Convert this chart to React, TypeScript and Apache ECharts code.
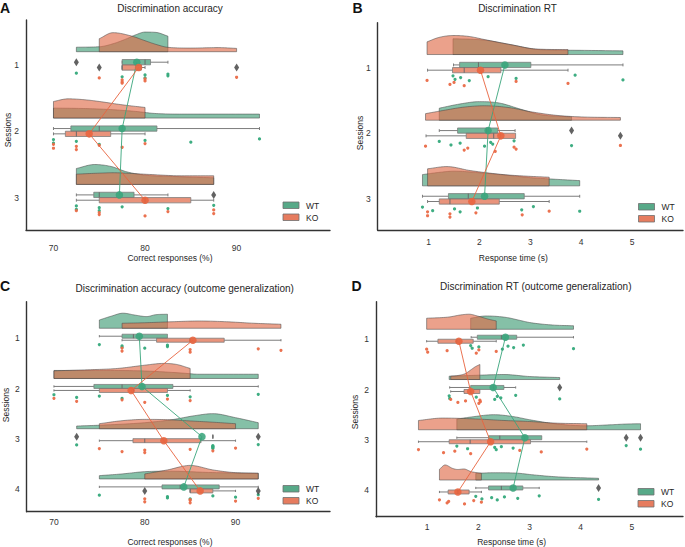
import React, { useEffect, useRef } from "react";
import * as echarts from "echarts";

// ---------- shared ticks ----------
const ACC_X_TICKS = [70, 80, 90];
const RT_X_TICKS = [1, 2, 3, 4, 5];
const SESSIONS_3 = [1, 2, 3];
const SESSIONS_4 = [1, 2, 3, 4];

// ---------- Panel A: Discrimination accuracy ----------
const A_WT_POINTS = [
  [72.5, 77.5, 80, 80, 82.5, 82.5],
  [70, 70, 72.5, 75, 80, 85, 92.5],
  [72.5, 72.5, 75, 75, 77.5, 82.5, 87.5],
];
const A_KO_POINTS = [
  [75, 77.5, 77.5, 77.5, 80, 80, 90],
  [70, 70, 72.5, 72.5, 75, 77.5, 80],
  [72.5, 75, 75, 80, 82.5, 87.5, 87.5],
];
// [whisker low, q1, median, q3, whisker high]
const A_WT_BOX = [[77.5, 77.5, 80, 80.6, 82.5], [70, 71.9, 75, 81.3, 92.5], [72.5, 74.4, 75, 78.8, 82.5]];
const A_KO_BOX = [[77.5, 77.5, 77.5, 79.6, 80], [70, 71.3, 72.5, 76.25, 80], [72.5, 75, 80, 85, 87.5]];
const A_WT_OUTLIERS = [[72.5], [], [87.5]];
const A_KO_OUTLIERS = [[75, 90], [], []];
const A_WT_MEAN = [79.1, 77.5, 77.2];
const A_KO_MEAN = [79.3, 73.9, 80.0];
const A_WT_DENSITY = [
  [[72.5, 0.068], [75, 0.075], [76.5, 0.12], [78, 0.196], [79, 0.256], [80, 0.296], [81.2, 0.291], [82.5, 0.234]],
  [[70, 0.15], [73, 0.145], [76, 0.13], [79, 0.1], [81, 0.07], [84, 0.06], [88, 0.06], [92.5, 0.06]],
  [[72.5, 0.24], [74.5, 0.3], [76.3, 0.27], [78, 0.19], [80, 0.14], [83, 0.12], [87.5, 0.1]],
];
const A_KO_DENSITY = [
  [[75, 0.196], [76.5, 0.287], [78.5, 0.237], [80, 0.166], [81.2, 0.11], [82.5, 0.066], [85, 0.055], [88, 0.062], [90, 0.05]],
  [[70, 0.25], [71.6, 0.29], [73.5, 0.275], [75, 0.25], [77.5, 0.2], [80, 0.16]],
  [[72.5, 0.155], [75, 0.17], [76.5, 0.176], [78.5, 0.165], [80.5, 0.15], [84, 0.13], [87.5, 0.13]],
];

// ---------- Panel B: Discrimination RT ----------
const B_WT_POINTS = [
  [1.48, 1.52, 1.63, 1.8, 2.17, 2.72, 3.88, 4.82],
  [1.21, 1.44, 1.62, 2.1, 2.22, 2.26, 2.68, 3.81],
  [0.88, 1.08, 1.51, 1.62, 1.96, 2.83, 3.06, 3.97],
];
const B_KO_POINTS = [
  [0.97, 1.42, 1.5, 1.7, 2.72, 3.74],
  [0.94, 1.7, 1.77, 2.31, 2.68, 2.72, 4.77],
  [0.98, 0.98, 1.42, 1.42, 1.93, 2.84, 3.37],
];
const B_WT_BOX = [[1.49, 1.61, 1.98, 3.01, 4.82], [1.21, 1.57, 2.14, 2.36, 2.7], [0.88, 1.39, 1.78, 2.88, 3.97]];
const B_KO_BOX = [[0.98, 1.47, 1.7, 2.42, 3.74], [0.95, 1.74, 2.28, 2.71, 2.71], [0.98, 1.21, 1.42, 2.39, 3.37]];
const B_WT_OUTLIERS = [[], [3.81], []];
const B_KO_OUTLIERS = [[], [4.77], []];
const B_WT_MEAN = [2.5, 2.17, 2.1];
const B_KO_MEAN = [2.02, 2.42, 1.85];
const B_WT_DENSITY = [
  [[1.48, 0.24], [1.8, 0.235], [2.12, 0.218], [2.4, 0.18], [2.66, 0.142], [3.1, 0.08], [3.5, 0.068], [4, 0.064], [4.82, 0.056]],
  [[1.21, 0.183], [1.6, 0.245], [2.0, 0.283], [2.4, 0.26], [2.8, 0.17], [3.2, 0.085], [3.81, 0.05]],
  [[0.88, 0.172], [1.2, 0.205], [1.5, 0.224], [2.0, 0.2], [2.5, 0.165], [3.0, 0.125], [3.4, 0.105], [3.97, 0.08]],
];
const B_KO_DENSITY = [
  [[0.97, 0.193], [1.2, 0.26], [1.5, 0.29], [1.8, 0.275], [2.12, 0.225], [2.66, 0.145], [3.1, 0.085], [3.74, 0.075]],
  [[0.94, 0.1], [1.3, 0.15], [1.7, 0.2], [2.1, 0.22], [2.6, 0.19], [3.0, 0.13], [3.5, 0.075], [4.0, 0.05], [4.77, 0.041]],
  [[0.98, 0.26], [1.36, 0.294], [1.82, 0.233], [2.47, 0.172], [3.0, 0.145], [3.37, 0.132]],
];

// ---------- Panel C: Discrimination accuracy (outcome generalization) ----------
const C_WT_POINTS = [
  [75, 77.5, 77.5, 80, 82.5, 82.5],
  [70, 72.5, 75, 77.5, 82.5, 85, 92.5],
  [72.5, 87.5, 87.5, 87.5, 87.5, 87.5, 92.5],
  [75, 82.5, 82.5, 85, 87.5, 90, 92.5],
];
const C_KO_POINTS = [
  [77.5, 77.5, 85, 85, 92.5, 95],
  [70, 72.5, 77.5, 80, 82.5, 85],
  [75, 77.5, 80, 80, 85, 87.5, 90],
  [80, 80, 85, 85, 85, 90, 92.5],
];
const C_WT_BOX = [[75, 77.5, 78.75, 82.5, 82.5], [70, 74.4, 77.5, 83.1, 92.5], [87.5, 87.5, 87.5, 87.5, 87.5], [75, 81.9, 83.9, 88.2, 92.5]];
const C_KO_BOX = [[77.5, 81.3, 85, 88.75, 95], [70, 75, 78.75, 82.5, 85], [75, 78.7, 80, 86.2, 90], [85, 85, 85, 87.5, 90]];
const C_WT_OUTLIERS = [[], [], [72.5, 92.5], []];
const C_KO_OUTLIERS = [[], [], [], [80, 92.5]];
const C_WT_MEAN = [79.4, 79.7, 86.3, 84.3];
const C_KO_MEAN = [85.3, 78.5, 82.1, 86.1];
const C_WT_DENSITY = [
  [[75, 0.165], [76.3, 0.24], [77.6, 0.3], [79, 0.26], [80.2, 0.233], [81.2, 0.27], [82.5, 0.28]],
  [[70, 0.16], [75, 0.16], [80, 0.15], [84, 0.11], [86, 0.085], [92.5, 0.085]],
  [[72.5, 0.054], [75, 0.07], [80, 0.12], [83, 0.18], [85.5, 0.26], [87.5, 0.3], [90, 0.22], [92.5, 0.12]],
  [[75, 0.066], [77.5, 0.1], [80, 0.145], [83, 0.155], [87, 0.13], [92.5, 0.11]],
];
const C_KO_DENSITY = [
  [[77.5, 0.1], [80, 0.11], [83, 0.13], [86, 0.145], [89, 0.13], [92, 0.1], [95, 0.08]],
  [[70, 0.153], [74, 0.175], [77, 0.2], [80, 0.265], [82, 0.3], [83.5, 0.28], [85, 0.2]],
  [[75, 0.1], [77.5, 0.16], [80, 0.186], [82.5, 0.18], [85, 0.155], [87.5, 0.13], [90, 0.1]],
  [[80, 0.1], [82.5, 0.18], [85, 0.27], [87.5, 0.18], [90, 0.125], [92.5, 0.115]],
];

// ---------- Panel D: Discrimination RT (outcome generalization) ----------
const D_WT_POINTS = [
  [1.85, 1.88, 2.01, 2.47, 2.58, 2.69, 2.88, 3.86],
  [1.43, 1.44, 1.96, 2.32, 2.37, 2.44, 2.73, 3.59],
  [1.58, 1.79, 2.32, 2.35, 2.45, 2.68, 4.89, 5.17],
  [1.95, 2.07, 2.26, 2.37, 2.51, 2.77, 3.19, 4.35],
];
const D_KO_POINTS = [
  [0.99, 1.01, 1.39, 1.96, 2.01, 2.35],
  [1.46, 1.6, 1.75, 2.01, 2.03, 2.04],
  [0.83, 1.32, 1.54, 1.85, 2.81, 3.23, 4.12],
  [1.24, 1.39, 1.42, 1.73, 1.91, 2.06],
];
const D_WT_BOX = [[1.86, 1.98, 2.45, 2.75, 3.86], [1.44, 1.85, 2.3, 2.5, 2.73], [1.58, 2.2, 2.42, 3.24, 2.68], [1.95, 2.2, 2.45, 2.87, 3.19]];
const D_KO_BOX = [[0.99, 1.21, 1.58, 1.9, 2.35], [1.46, 1.72, 1.85, 2.03, 2.03], [0.83, 1.43, 1.84, 3.02, 4.12], [1.24, 1.41, 1.6, 1.82, 2.06]];
const D_WT_OUTLIERS = [[], [3.59], [4.89, 5.17], [4.35]];
const D_KO_OUTLIERS = [[], [], [], []];
const D_WT_MEAN = [2.53, 2.29, 2.91, 2.68];
const D_KO_MEAN = [1.62, 1.85, 2.24, 1.6];
const D_WT_DENSITY = [
  [[1.85, 0.22], [2.15, 0.265], [2.55, 0.235], [2.8, 0.18], [3.0, 0.135], [3.45, 0.085], [3.86, 0.07]],
  [[1.43, 0.066], [2.0, 0.086], [2.5, 0.1], [3.0, 0.06], [3.59, 0.04]],
  [[1.58, 0.213], [1.9, 0.26], [2.3, 0.3], [2.7, 0.26], [3.0, 0.2], [3.5, 0.12], [4.1, 0.08], [4.6, 0.1], [4.9, 0.115], [5.17, 0.12]],
  [[1.95, 0.133], [2.3, 0.145], [2.7, 0.14], [3.1, 0.1], [3.5, 0.066], [4.35, 0.034]],
];
const D_KO_DENSITY = [
  [[0.99, 0.22], [1.43, 0.245], [1.65, 0.285], [1.82, 0.3], [1.98, 0.265], [2.2, 0.2], [2.35, 0.166]],
  [[1.46, 0.066], [1.6, 0.08], [1.75, 0.12], [1.85, 0.19], [1.95, 0.26], [2.03, 0.3]],
  [[0.83, 0.185], [1.3, 0.233], [2.0, 0.213], [2.5, 0.185], [3.0, 0.165], [3.5, 0.133], [4.12, 0.12]],
  [[1.24, 0.213], [1.35, 0.3], [1.5, 0.23], [1.6, 0.21], [1.72, 0.22], [1.85, 0.17], [2.06, 0.133]],
];

// ---------- styling / layout ----------
const FONT = "'Liberation Sans', Arial, Helvetica, sans-serif";
const WT_FILL = "rgba(61,155,116,0.63)";
const KO_FILL = "rgba(224,106,72,0.63)";
const WT_BOXFILL = "rgba(61,155,116,0.72)";
const KO_BOXFILL = "rgba(224,106,72,0.72)";
const WT_DOT = "#34a97b";
const KO_DOT = "#ea6a47";
const WT_MEANC = "#3aa57c";
const KO_MEANC = "#e8643f";
const VIOLIN_BASE = -0.2;
const WT_ROW = -0.042;
const KO_ROW = 0.038;
const BOX_HALF = 0.04;
const WT_PTS_RANGE = [0.11, 0.2];
const KO_PTS_RANGE = [0.18, 0.28];
const JIT = [0.15, 0.75, 0.45, 0.95, 0.3, 0.6, 0.05, 0.85];

function smoothProfile(prof: number[][], n = 12): number[][] {
  const N = prof.length;
  if (N < 3) return prof;
  const xs = prof.map((p) => p[0]);
  const ys = prof.map((p) => p[1]);
  const d: number[] = [];
  const m: number[] = [];
  for (let i = 0; i < N - 1; i++) d.push((ys[i + 1] - ys[i]) / (xs[i + 1] - xs[i]));
  m[0] = d[0];
  m[N - 1] = d[N - 2];
  for (let i = 1; i < N - 1; i++) m[i] = d[i - 1] * d[i] <= 0 ? 0 : (d[i - 1] + d[i]) / 2;
  for (let i = 0; i < N - 1; i++) {
    if (d[i] === 0) { m[i] = 0; m[i + 1] = 0; continue; }
    const a = m[i] / d[i], b = m[i + 1] / d[i];
    const s = a * a + b * b;
    if (s > 9) { const t = 3 / Math.sqrt(s); m[i] = t * a * d[i]; m[i + 1] = t * b * d[i]; }
  }
  const out: number[][] = [];
  for (let i = 0; i < N - 1; i++) {
    const h = xs[i + 1] - xs[i];
    for (let k = 0; k < n; k++) {
      const t = k / n, t2 = t * t, t3 = t2 * t;
      const h00 = 2 * t3 - 3 * t2 + 1, h10 = t3 - 2 * t2 + t, h01 = -2 * t3 + 3 * t2, h11 = t3 - t2;
      out.push([xs[i] + t * h, h00 * ys[i] + h10 * h * m[i] + h01 * ys[i + 1] + h11 * h * m[i + 1]]);
    }
  }
  out.push([xs[N - 1], ys[N - 1]]);
  return out;
}

type Group = { points: number[][]; box: number[][]; outliers: number[][]; mean: number[]; density: number[][][] };

function violinSeries(ai: number, sessions: number[], dens: number[][][], fill: string, z: number) {
  return {
    type: "custom", xAxisIndex: ai, yAxisIndex: ai, z, silent: true,
    data: sessions.map((s, i) => [dens[i][0][0], s]),
    encode: { x: 0, y: 1 },
    renderItem: (params: any, api: any) => {
      const prof = dens[params.dataIndex];
      const s = api.value(1);
      const base = s + VIOLIN_BASE;
      const curve = smoothProfile(prof);
      const top = curve.map(([x, h]) => api.coord([x, base - Math.max(0, h)]));
      const pts = [api.coord([prof[0][0], base]), ...top, api.coord([prof[prof.length - 1][0], base])];
      return {
        type: "polygon",
        shape: { points: pts },
        style: { fill, stroke: "rgba(70,70,70,0.6)", lineWidth: 0.9 },
      };
    },
  };
}

function boxSeries(ai: number, sessions: number[], boxes: number[][], fill: string, row: number, z: number) {
  return {
    type: "custom", xAxisIndex: ai, yAxisIndex: ai, z, silent: true,
    data: boxes.map((b, i) => [b[2], sessions[i] + row, ...b]),
    encode: { x: 0, y: 1 },
    renderItem: (params: any, api: any) => {
      const yc = api.value(1);
      const lo = api.value(2), q1 = api.value(3), med = api.value(4), q3 = api.value(5), hi = api.value(6);
      const hh = Math.abs(api.size([0, BOX_HALF])[1]);
      const pLo = api.coord([lo, yc]), pQ1 = api.coord([q1, yc]), pMed = api.coord([med, yc]);
      const pQ3 = api.coord([q3, yc]), pHi = api.coord([hi, yc]);
      const y = pMed[1];
      const wl = { stroke: "#7c7c7c", lineWidth: 1 };
      const children: any[] = [];
      if (q1 > lo) {
        children.push({ type: "line", shape: { x1: pLo[0], y1: y, x2: pQ1[0], y2: y }, style: wl });
      }
      children.push({ type: "line", shape: { x1: pLo[0], y1: y - hh * 0.55, x2: pLo[0], y2: y + hh * 0.55 }, style: wl });
      if (hi > q3) {
        children.push({ type: "line", shape: { x1: pQ3[0], y1: y, x2: pHi[0], y2: y }, style: wl });
        children.push({ type: "line", shape: { x1: pHi[0], y1: y - hh * 0.55, x2: pHi[0], y2: y + hh * 0.55 }, style: wl });
      }
      children.push({
        type: "rect",
        shape: { x: pQ1[0], y: y - hh, width: Math.max(pQ3[0] - pQ1[0], 0.01), height: 2 * hh },
        style: { fill, stroke: "rgba(120,120,120,0.75)", lineWidth: 1 },
      });
      children.push({ type: "line", shape: { x1: pMed[0], y1: y - hh, x2: pMed[0], y2: y + hh }, style: { stroke: "#6a6a6a", lineWidth: 1 } });
      return { type: "group", children };
    },
  };
}

function pointSeries(ai: number, sessions: number[], pts: number[][], color: string, range: number[]) {
  const data: number[][] = [];
  pts.forEach((arr, i) => arr.forEach((v, k) => data.push([v, sessions[i] + range[0] + (range[1] - range[0]) * JIT[k % JIT.length]])));
  return {
    type: "scatter", xAxisIndex: ai, yAxisIndex: ai, z: 3, silent: true,
    symbol: "circle", symbolSize: 3.2, data,
    itemStyle: { color, opacity: 0.95 },
  };
}

function outlierSeries(ai: number, sessions: number[], outs: number[][], row: number) {
  const data: number[][] = [];
  outs.forEach((arr, i) => arr.forEach((v) => data.push([v, sessions[i] + row])));
  return {
    type: "scatter", xAxisIndex: ai, yAxisIndex: ai, z: 3, silent: true,
    symbol: "diamond", symbolSize: [5, 8], data,
    itemStyle: { color: "#3b3b3b" },
  };
}

function meanSeries(ai: number, sessions: number[], means: number[], color: string, row: number) {
  return {
    type: "line", xAxisIndex: ai, yAxisIndex: ai, z: 5, silent: true,
    data: means.map((m, i) => [m, sessions[i] + row]),
    symbol: "circle", symbolSize: 7.5, showSymbol: true,
    lineStyle: { color, width: 1, opacity: 0.9 },
    itemStyle: { color, opacity: 0.88 },
  };
}

const PANELS = [
  {
    letter: "A", title: "Discrimination accuracy", xName: "Correct responses (%)",
    grid: { left: 26, top: 20, width: 304, height: 210 },
    xMin: 67, xMax: 100.2, yMin: 0.322, yMax: 3.487, xTicks: ACC_X_TICKS, sessions: SESSIONS_3, xLabelMargin: 13,
    letterPos: [5, 7.5], titlePos: [170, 8], xNamePos: [170, 258], yNamePos: [7.5, 130], legendPos: [283, 202],
    wt: { points: A_WT_POINTS, box: A_WT_BOX, outliers: A_WT_OUTLIERS, mean: A_WT_MEAN, density: A_WT_DENSITY } as Group,
    ko: { points: A_KO_POINTS, box: A_KO_BOX, outliers: A_KO_OUTLIERS, mean: A_KO_MEAN, density: A_KO_DENSITY } as Group,
  },
  {
    letter: "B", title: "Discrimination RT", xName: "Response time (s)",
    grid: { left: 377.7, top: 22.7, width: 305.3, height: 207.3 },
    xMin: 0, xMax: 6, yMin: 0.315, yMax: 3.472, xTicks: RT_X_TICKS, sessions: SESSIONS_3, xLabelMargin: 7,
    letterPos: [357.5, 7.5], titlePos: [517.5, 8], xNamePos: [513.3, 258], yNamePos: [360, 133], legendPos: [638.5, 203.5],
    wt: { points: B_WT_POINTS, box: B_WT_BOX, outliers: B_WT_OUTLIERS, mean: B_WT_MEAN, density: B_WT_DENSITY } as Group,
    ko: { points: B_KO_POINTS, box: B_KO_BOX, outliers: B_KO_OUTLIERS, mean: B_KO_MEAN, density: B_KO_DENSITY } as Group,
  },
  {
    letter: "C", title: "Discrimination accuracy (outcome generalization)", xName: "Correct responses (%)",
    grid: { left: 26.7, top: 301.7, width: 303.3, height: 210 },
    xMin: 67, xMax: 100.4, yMin: 0.271, yMax: 4.452, xTicks: ACC_X_TICKS, sessions: SESSIONS_4, xLabelMargin: 6,
    letterPos: [5, 286], titlePos: [184.7, 288.3], xNamePos: [170, 541.7], yNamePos: [5.5, 405], legendPos: [283, 485.5],
    wt: { points: C_WT_POINTS, box: C_WT_BOX, outliers: C_WT_OUTLIERS, mean: C_WT_MEAN, density: C_WT_DENSITY } as Group,
    ko: { points: C_KO_POINTS, box: C_KO_BOX, outliers: C_KO_OUTLIERS, mean: C_KO_MEAN, density: C_KO_DENSITY } as Group,
  },
  {
    letter: "D", title: "Discrimination RT (outcome generalization)", xName: "Response time (s)",
    grid: { left: 376, top: 301.7, width: 307, height: 215 },
    xMin: 0, xMax: 6, yMin: 0.251, yMax: 4.53, xTicks: RT_X_TICKS, sessions: SESSIONS_4, xLabelMargin: 5.5,
    letterPos: [356.5, 286], titlePos: [535.8, 286.7], xNamePos: [511.7, 541.7], yNamePos: [355, 412], legendPos: [638, 488.5],
    wt: { points: D_WT_POINTS, box: D_WT_BOX, outliers: D_WT_OUTLIERS, mean: D_WT_MEAN, density: D_WT_DENSITY } as Group,
    ko: { points: D_KO_POINTS, box: D_KO_BOX, outliers: D_KO_OUTLIERS, mean: D_KO_MEAN, density: D_KO_DENSITY } as Group,
  },
];

function buildOption() {
  const grid: any[] = [];
  const xAxis: any[] = [];
  const yAxis: any[] = [];
  const series: any[] = [];
  const graphic: any[] = [];
  const txt = (text: string, x: number, y: number, size: number, extra: any = {}) => ({
    type: "text", x, y, silent: true,
    style: { text, fontSize: size, fontFamily: FONT, fill: "#262626", align: "center", verticalAlign: "middle", ...extra },
  });
  PANELS.forEach((p, ai) => {
    grid.push({ ...p.grid, containLabel: false, outerBoundsMode: "none" });
    const axisLine = { show: true, lineStyle: { color: "#333", width: 1.4 } };
    xAxis.push({
      type: "value", gridIndex: ai, min: p.xMin, max: p.xMax,
      axisLine, axisTick: { show: false }, splitLine: { show: false },
      axisLabel: { customValues: p.xTicks, color: "#333", fontSize: 8.5, fontFamily: FONT, margin: p.xLabelMargin },
    });
    yAxis.push({
      type: "value", gridIndex: ai, min: p.yMin, max: p.yMax, inverse: true,
      axisLine, axisTick: { show: false }, splitLine: { show: false },
      axisLabel: { customValues: p.sessions, color: "#333", fontSize: 8.5, fontFamily: FONT, margin: 7 },
    });
    series.push(violinSeries(ai, p.sessions, p.wt.density, WT_FILL, 1));
    series.push(violinSeries(ai, p.sessions, p.ko.density, KO_FILL, 1));
    series.push(boxSeries(ai, p.sessions, p.wt.box, WT_BOXFILL, WT_ROW, 2));
    series.push(boxSeries(ai, p.sessions, p.ko.box, KO_BOXFILL, KO_ROW, 2));
    series.push(pointSeries(ai, p.sessions, p.wt.points, WT_DOT, WT_PTS_RANGE));
    series.push(pointSeries(ai, p.sessions, p.ko.points, KO_DOT, KO_PTS_RANGE));
    series.push(outlierSeries(ai, p.sessions, p.wt.outliers, WT_ROW));
    series.push(outlierSeries(ai, p.sessions, p.ko.outliers, KO_ROW));
    series.push(meanSeries(ai, p.sessions, p.wt.mean, WT_MEANC, WT_ROW));
    series.push(meanSeries(ai, p.sessions, p.ko.mean, KO_MEANC, KO_ROW));

    graphic.push(txt(p.letter, p.letterPos[0], p.letterPos[1], 14, { fontWeight: "bold", fill: "#111" }));
    graphic.push(txt(p.title, p.titlePos[0], p.titlePos[1], 10));
    graphic.push(txt(p.xName, p.xNamePos[0], p.xNamePos[1], 8.5));
    graphic.push({ ...txt("Sessions", 0, 0, 8.5), x: p.yNamePos[0], y: p.yNamePos[1], rotation: Math.PI / 2 });
    const [lx, ly] = p.legendPos;
    graphic.push({ type: "rect", silent: true, shape: { x: lx, y: ly, width: 16, height: 6.5 }, style: { fill: "#57a988", stroke: "#6e6e6e", lineWidth: 0.8 } });
    graphic.push({ type: "rect", silent: true, shape: { x: lx, y: ly + 12, width: 16, height: 6.5 }, style: { fill: "#e67c5f", stroke: "#6e6e6e", lineWidth: 0.8 } });
    graphic.push(txt("WT", lx + 23, ly + 3.5, 8.5, { align: "left" }));
    graphic.push(txt("KO", lx + 23, ly + 15.5, 8.5, { align: "left" }));
  });
  return { animation: false, backgroundColor: "#ffffff", grid, xAxis, yAxis, series, graphic };
}

export default function App() {
  const ref = useRef<HTMLDivElement>(null);
  useEffect(() => {
    if (!ref.current) return;
    const chart = echarts.init(ref.current, undefined, { renderer: "svg" });
    chart.setOption(buildOption() as any);
    return () => chart.dispose();
  }, []);
  return <div ref={ref} style={{ position: "fixed", left: 0, top: 0, width: 685, height: 547, background: "#fff" }} />;
}
